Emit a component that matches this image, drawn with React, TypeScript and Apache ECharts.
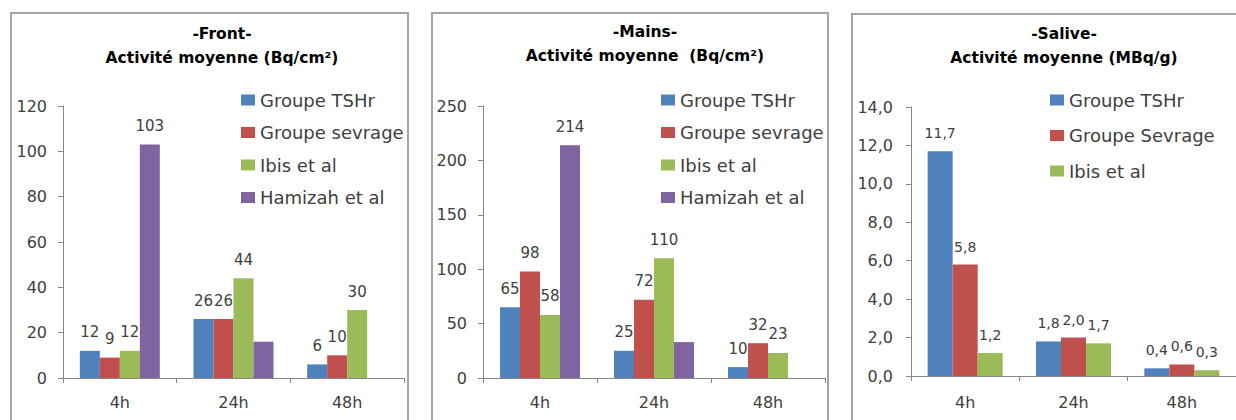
import React, { useEffect, useRef } from "react";
import * as echarts from "echarts";

const categories = ["4h", "24h", "48h"];

const frontTSHr = [12, 26, 6];
const frontSevrage = [9, 26, 10];
const frontIbis = [12, 44, 30];
const frontHamizah = [103, 16, null];

const mainsTSHr = [65, 25, 10];
const mainsSevrage = [98, 72, 32];
const mainsIbis = [58, 110, 23];
const mainsHamizah = [214, 33, null];

const saliveTSHr = [11.7, 1.8, 0.4];
const saliveSevrage = [5.8, 2.0, 0.6];
const saliveIbis = [1.2, 1.7, 0.3];

// category indexes whose Hamizah bar carries no value label
const hamizahUnlabeled = [1];

const frontAxis = { max: 120, interval: 20 };
const mainsAxis = { max: 250, interval: 50 };
const salivaAxis = { max: 14, interval: 2 };

const frontTitle = ["-Front-", "Activité moyenne (Bq/cm²)"];
const mainsTitle = ["-Mains-", "Activité moyenne  (Bq/cm²)"];
const salivaTitle = ["-Salive-", "Activité moyenne (MBq/g)"];

const namesFM = ["Groupe TSHr", "Groupe sevrage", "Ibis et al", "Hamizah et al"];
const namesS = ["Groupe TSHr", "Groupe Sevrage", "Ibis et al"];

const COLORS = ["#4F81BD", "#C0504D", "#9BBB59", "#8064A2"];
const FONT = "DejaVu Sans";
const TXT = "#404040";
const AXIS = "#868686";

const comma = (v: number) => v.toFixed(1).replace(".", ",");

function makeSeries(
  name: string,
  values: (number | null)[],
  idx: number,
  color: string,
  barWidth: number,
  fontSize: number,
  fmt: ((v: number) => string) | null,
  unlabeled: number[]
) {
  return {
    type: "bar",
    name,
    xAxisIndex: idx,
    yAxisIndex: idx,
    barWidth,
    barGap: "0%",
    itemStyle: { color },
    label: {
      show: true,
      position: "top",
      distance: 11,
      fontSize,
      fontFamily: FONT,
      color: TXT,
      formatter: (p: any) => (fmt ? fmt(p.value) : String(p.value)),
    },
    data: values.map((v, i) =>
      unlabeled.includes(i) ? { value: v, label: { show: false } } : v
    ),
  };
}

function yAxis(idx: number, ax: { max: number; interval: number }, margin: number, fmt?: (v: number) => string) {
  return {
    type: "value",
    gridIndex: idx,
    min: 0,
    max: ax.max,
    interval: ax.interval,
    axisLine: { show: true, lineStyle: { color: AXIS, width: 1 } },
    axisTick: { show: true, length: 5, lineStyle: { color: AXIS } },
    splitLine: { show: false },
    axisLabel: {
      fontSize: 16,
      fontFamily: FONT,
      color: TXT,
      margin,
      formatter: fmt ? (v: number) => fmt(v) : undefined,
    },
  };
}

function xAxis(idx: number, margin: number) {
  return {
    type: "category",
    gridIndex: idx,
    data: categories,
    axisLine: { show: true, lineStyle: { color: AXIS, width: 1 } },
    axisTick: { show: true, length: 5, lineStyle: { color: AXIS } },
    axisLabel: { fontSize: 16, fontFamily: FONT, color: TXT, margin },
  };
}

function titleTexts(lines: string[], cx: number, y0: number) {
  return lines.map((t, i) => ({
    type: "text",
    x: cx,
    y: y0 + i * 24,
    style: {
      text: t,
      fontSize: 15.5,
      fontWeight: "bold",
      fontFamily: FONT,
      fill: "#000",
      align: "center",
      verticalAlign: "middle",
    },
  }));
}

function border(x: number, y: number, w: number) {
  return {
    type: "rect",
    shape: { x, y, width: w, height: 440 },
    style: { fill: "none", stroke: "#a6a6a6", lineWidth: 2 },
  };
}

export default function App() {
  const ref = useRef<HTMLDivElement>(null);

  useEffect(() => {
    if (!ref.current) return;
    const chart = echarts.init(ref.current, undefined, { renderer: "svg" });

    const legendBase = {
      orient: "vertical",
      icon: "rect",
      itemWidth: 14,
      itemHeight: 11,
      itemTextGap: 5,
      textStyle: { fontSize: 18, fontFamily: FONT, color: TXT, lineHeight: 18 },
      selectedMode: false,
    };

    const option: any = {
      animation: false,
      backgroundColor: "#fff",
      textStyle: { fontFamily: FONT },
      grid: [
        { left: 63, top: 106, width: 341, height: 272 },
        { left: 483, top: 106, width: 342, height: 272 },
        { left: 911, top: 107, width: 335, height: 269 },
      ],
      xAxis: [xAxis(0, 16), xAxis(1, 16), xAxis(2, 18)],
      yAxis: [
        yAxis(0, frontAxis, 16),
        yAxis(1, mainsAxis, 16),
        yAxis(2, salivaAxis, 18, comma),
      ],
      legend: [
        { ...legendBase, data: namesFM, left: 236, top: 86, itemGap: 14.5 },
        { ...legendBase, data: namesFM, left: 656, top: 86, itemGap: 14.5 },
        { ...legendBase, data: namesS, left: 1045, top: 86, itemGap: 17.5 },
      ],
      graphic: [
        border(11, 13, 397),
        border(432, 13, 396),
        border(852, 14, 400),
        ...titleTexts(frontTitle, 222, 34),
        ...titleTexts(mainsTitle, 645, 32),
        ...titleTexts(salivaTitle, 1064, 34),
      ],
      series: [
        makeSeries(namesFM[0], frontTSHr, 0, COLORS[0], 20, 15, null, []),
        makeSeries(namesFM[1], frontSevrage, 0, COLORS[1], 20, 15, null, []),
        makeSeries(namesFM[2], frontIbis, 0, COLORS[2], 20, 15, null, []),
        makeSeries(namesFM[3], frontHamizah, 0, COLORS[3], 20, 15, null, hamizahUnlabeled),
        makeSeries(namesFM[0], mainsTSHr, 1, COLORS[0], 20, 15, null, []),
        makeSeries(namesFM[1], mainsSevrage, 1, COLORS[1], 20, 15, null, []),
        makeSeries(namesFM[2], mainsIbis, 1, COLORS[2], 20, 15, null, []),
        makeSeries(namesFM[3], mainsHamizah, 1, COLORS[3], 20, 15, null, hamizahUnlabeled),
        makeSeries(namesS[0], saliveTSHr, 2, COLORS[0], 25, 14, comma, []),
        makeSeries(namesS[1], saliveSevrage, 2, COLORS[1], 25, 14, comma, []),
        makeSeries(namesS[2], saliveIbis, 2, COLORS[2], 25, 14, comma, []),
      ],
    };

    chart.setOption(option);
    return () => chart.dispose();
  }, []);

  return (
    <div
      ref={ref}
      style={{ position: "fixed", left: 0, top: 0, width: 1236, height: 420 }}
    />
  );
}
